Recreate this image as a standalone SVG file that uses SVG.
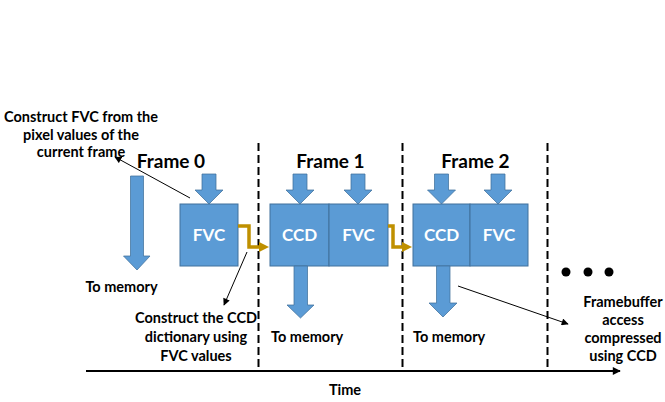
<svg xmlns="http://www.w3.org/2000/svg" width="665" height="402" viewBox="0 0 665 402">
<defs>
<style>
text{font-family:Lato,"Liberation Sans",sans-serif;font-weight:bold;fill:#000}
.s{font-size:14.5px}
.c{text-anchor:middle}
.f{font-size:19px;text-anchor:middle}
.w{font-size:17px;fill:#fff;text-anchor:middle}
.box{fill:#5B9BD5;stroke:#41719C;stroke-width:1}
.ar{fill:#5B9BD5;stroke:#41719C;stroke-width:0.75}
.dash{stroke:#000;stroke-width:2;stroke-dasharray:8 4;fill:none}
.gold{stroke:#BF9000;stroke-width:3.5;fill:none;marker-end:url(#ga)}
.thin{stroke:#000;stroke-width:1;fill:none;marker-end:url(#ta)}
</style>
<marker id="ga" viewBox="0 0 10 10" refX="2" refY="5" markerWidth="2.9" markerHeight="2.9" orient="auto" markerUnits="strokeWidth"><path d="M0,0 L10,5 L0,10 Z" fill="#BF9000"/></marker>
<marker id="ta" viewBox="0 0 10 10" refX="9" refY="5" markerWidth="8" markerHeight="7" orient="auto" markerUnits="userSpaceOnUse"><path d="M0,0 L10,5 L0,10 Z" fill="#000"/></marker>
<marker id="axa" viewBox="0 0 10 10" refX="9" refY="5" markerWidth="9" markerHeight="8" orient="auto" markerUnits="userSpaceOnUse"><path d="M0,0 L10,5 L0,10 Z" fill="#000"/></marker>
</defs>

<g id="timeline">
<line x1="86" y1="371" x2="620" y2="371" stroke="#000" stroke-width="2" marker-end="url(#axa)"/>
<text class="s c" x="345" y="395">Time</text>
</g>

<g id="dividers">
<line class="dash" x1="258.5" y1="143" x2="258.5" y2="371"/>
<line class="dash" x1="402.5" y1="143" x2="402.5" y2="371"/>
<line class="dash" x1="547.5" y1="143" x2="547.5" y2="371"/>
</g>

<g id="note-fvc">
<text class="s c" x="81" y="122">Construct FVC from the</text>
<text class="s c" x="81" y="140">pixel values of the</text>
<text class="s c" x="81" y="157">current frame</text>
</g>

<g id="to-memory-0">
<path class="ar" d="M130.5,176 H143.5 V256 H150 L137,270 L123.5,256 H130.5 Z"/>
<text class="s c" x="121.5" y="292">To memory</text>
</g>

<g id="frame0">
<text class="f" x="171" y="168">Frame 0</text>
<path class="ar" d="M202,174 H216 V190 H223 L209,204 L195,190 H202 Z"/>
<rect class="box" x="180" y="204" width="58" height="62"/>
<text class="w" x="209" y="241">FVC</text>
</g>

<g id="frame1">
<text class="f" x="330.5" y="168">Frame 1</text>
<path class="ar" d="M293,174 H307 V190 H314 L300,204 L286,190 H293 Z"/>
<path class="ar" d="M351,174 H365 V190 H372 L358,204 L344,190 H351 Z"/>
<rect class="box" x="270" y="204" width="59" height="62"/>
<rect class="box" x="329" y="204" width="59" height="62"/>
<text class="w" x="299.5" y="241">CCD</text>
<text class="w" x="358.5" y="241">FVC</text>
<path class="ar" d="M294,266 H307.5 V305 H314 L300.5,318 L287,305 H294 Z"/>
<text class="s" x="271" y="342">To memory</text>
</g>

<g id="frame2">
<text class="f" x="475.5" y="168">Frame 2</text>
<path class="ar" d="M434.5,174 H448.5 V190 H455.5 L441.5,204 L427.5,190 H434.5 Z"/>
<path class="ar" d="M491,174 H505 V190 H512 L498,204 L484,190 H491 Z"/>
<rect class="box" x="413" y="204" width="57" height="62"/>
<rect class="box" x="470" y="204" width="58" height="62"/>
<text class="w" x="441.5" y="241">CCD</text>
<text class="w" x="499" y="241">FVC</text>
<path class="ar" d="M436.5,266 H450 V303 H457 L443,317 L429,303 H436.5 Z"/>
<text class="s" x="413" y="342">To memory</text>
</g>

<g id="ellipsis">
<circle cx="566" cy="272" r="4.5"/>
<circle cx="588" cy="272" r="4.5"/>
<circle cx="609" cy="272" r="4.5"/>
</g>

<g id="note-ccd">
<text class="s c" x="196" y="323">Construct the CCD</text>
<text class="s c" x="196" y="342">dictionary using</text>
<text class="s c" x="196" y="361">FVC values</text>
</g>

<g id="note-framebuffer">
<text class="s c" x="623" y="307">Framebuffer</text>
<text class="s c" x="623" y="325">access</text>
<text class="s c" x="623" y="343">compressed</text>
<text class="s c" x="623" y="361">using CCD</text>
</g>

<g id="connectors">
<path class="gold" d="M238,226 H249 V247 H261"/>
<path class="gold" d="M388,226 H393 V247 H404"/>
<line class="thin" x1="190" y1="198" x2="115" y2="157"/>
<line class="thin" x1="247" y1="252" x2="224" y2="305"/>
<line class="thin" x1="458" y1="286" x2="568" y2="324"/>
</g>
</svg>
